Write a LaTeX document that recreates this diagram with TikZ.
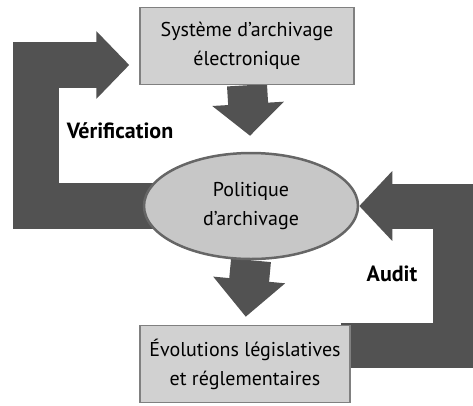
\documentclass[tikz,border=0pt]{standalone}
\usepackage{fontspec}
\setmainfont{PT Sans}
\usetikzlibrary{arrows.meta,shapes.geometric,backgrounds}

\begin{document}
\begin{tikzpicture}[x=1pt,y=-1pt,
    boite/.style={draw=black!50,fill=black!18,line width=1.5pt,minimum width=214pt,
      minimum height=77pt,align=center,font=\fontsize{20}{29}\selectfont},
    ovale/.style={ellipse,draw=black!60,fill=black!22,line width=2.5pt,minimum width=214pt,
      minimum height=106pt,align=center,font=\fontsize{20}{29}\selectfont},
    bloc/.style={draw=black!68,line width=#1},
    etiq/.style={font=\fontsize{22}{26}\selectfont\bfseries}]
  \useasboundingbox (0,0) rectangle (473,405);
  \node [boite] (sys) at (247,46) {Système d'archivage\\électronique};
  \node [ovale] (pol) at (251,206) {Politique\\d'archivage};
  \node [boite,minimum width=210pt] (evo) at (245,364) {Évolutions législatives\\et réglementaires};
  \node [etiq] (verif) at (120,131) {Vérification};
  \node [etiq] (audit) at (392,274) {Audit};
  \coordinate (vl) at (36,65);
  \coordinate (vr) at (455,206);
  \begin{scope}[on background layer]
    \draw [bloc=40pt,-{Triangle[width=70pt,length=32pt]},shorten >=16pt] (sys.south) -- (pol.north);
    \draw [bloc=40pt,-{Triangle[width=70pt,length=37pt]},shorten >=8pt] (pol.south) -- (evo.north);
    \draw [bloc=46pt,-{Triangle[width=66pt,length=33pt]},shorten >=10pt] ([xshift=20pt]pol.west) -| (vl) -- (vl -| sys.west);
    \draw [bloc=45pt,-{Triangle[width=68pt,length=33pt]}] ([yshift=19pt,xshift=-10pt]evo.east) -| (vr) -- (pol.east);
  \end{scope}
\end{tikzpicture}
\end{document}
